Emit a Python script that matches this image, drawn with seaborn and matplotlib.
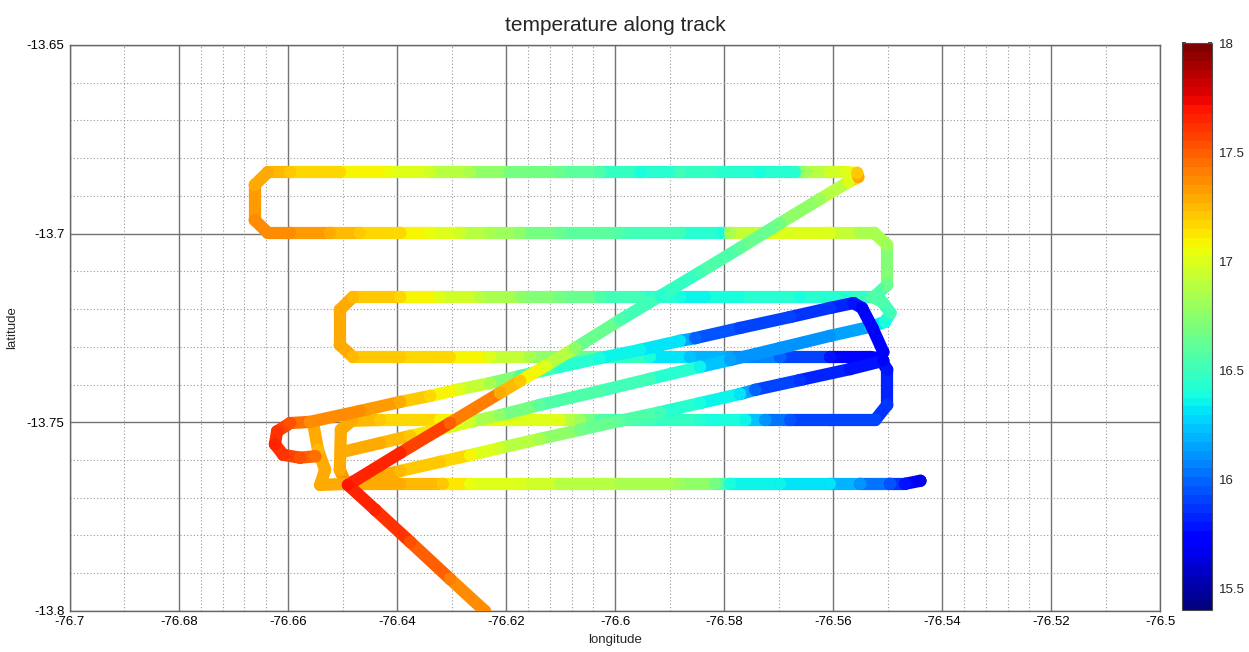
import numpy as np
import pandas as pd
import seaborn as sns
import matplotlib.pyplot as plt
from matplotlib.collections import LineCollection
from matplotlib.colors import Normalize
from matplotlib.cm import ScalarMappable

# Track legs: (longitude, latitude, temperature)
approach_leg = [
    (-76.6239, -13.8000, 17.35), (-76.6303, -13.7915, 17.4), (-76.6376, -13.7817, 17.55),
    (-76.6440, -13.7732, 17.65), (-76.6490, -13.7666, 17.7),
    (-76.6394, -13.7581, 17.65), (-76.6303, -13.7502, 17.5), (-76.6211, -13.7422, 17.3),
    (-76.6174, -13.7390, 17.2), (-76.6128, -13.7351, 17.0), (-76.6073, -13.7303, 16.75),
    (-76.5991, -13.7229, 16.55), (-76.5917, -13.7165, 16.45), (-76.5844, -13.7102, 16.5),
    (-76.5771, -13.7038, 16.6), (-76.5697, -13.6972, 16.7), (-76.5624, -13.6908, 16.8),
    (-76.5572, -13.6863, 17.0), (-76.5554, -13.6850, 17.3), (-76.5556, -13.6839, 17.2),
    (-76.5578, -13.6837, 17.0),
]

survey_leg = [
    (-76.5578, -13.6837, 17.0), (-76.5606, -13.6837, 16.95), (-76.5651, -13.6837, 16.8),
    (-76.5670, -13.6837, 16.45), (-76.5734, -13.6837, 16.4), (-76.5807, -13.6837, 16.45),
    (-76.5881, -13.6837, 16.5), (-76.5954, -13.6837, 16.4), (-76.6028, -13.6837, 16.55),
    (-76.6101, -13.6837, 16.65), (-76.6193, -13.6837, 16.7), (-76.6266, -13.6837, 16.85),
    (-76.6339, -13.6837, 16.95), (-76.6413, -13.6837, 17.05), (-76.6505, -13.6837, 17.15),
    (-76.6596, -13.6837, 17.2), (-76.6637, -13.6837, 17.3), (-76.6661, -13.6871, 17.3),
    (-76.6661, -13.6964, 17.35), (-76.6637, -13.6998, 17.35), (-76.6596, -13.6998, 17.35),
    (-76.6523, -13.6998, 17.3), (-76.6468, -13.6998, 17.2), (-76.6394, -13.6998, 17.15),
    (-76.6339, -13.6998, 17.05), (-76.6284, -13.6998, 16.95), (-76.6229, -13.6998, 16.85),
    (-76.6174, -13.6998, 16.75), (-76.6101, -13.6998, 16.65), (-76.5991, -13.6998, 16.55),
    (-76.5881, -13.6998, 16.5), (-76.5807, -13.6998, 16.4), (-76.5789, -13.6998, 16.85),
    (-76.5716, -13.6998, 17.0), (-76.5606, -13.6998, 17.0), (-76.5550, -13.6998, 16.85),
    (-76.5525, -13.6998, 16.85), (-76.5501, -13.7030, 16.8), (-76.5501, -13.7136, 16.65),
    (-76.5525, -13.7168, 16.5), (-76.5569, -13.7168, 16.45), (-76.5661, -13.7168, 16.4),
    (-76.5752, -13.7168, 16.45), (-76.5835, -13.7168, 16.35), (-76.5881, -13.7168, 16.4),
    (-76.5954, -13.7168, 16.5), (-76.6028, -13.7168, 16.55), (-76.6101, -13.7168, 16.7),
    (-76.6174, -13.7168, 16.75), (-76.6248, -13.7168, 16.9), (-76.6321, -13.7168, 17.0),
    (-76.6394, -13.7168, 17.15), (-76.6481, -13.7168, 17.25), (-76.6505, -13.7202, 17.3),
    (-76.6505, -13.7295, 17.3), (-76.6481, -13.7327, 17.25), (-76.6394, -13.7327, 17.2),
    (-76.6303, -13.7327, 17.15), (-76.6229, -13.7327, 17.0), (-76.6156, -13.7327, 16.85),
    (-76.6083, -13.7327, 16.7), (-76.6009, -13.7327, 16.55), (-76.5936, -13.7327, 16.4),
    (-76.5862, -13.7327, 16.25), (-76.5789, -13.7327, 16.15), (-76.5697, -13.7327, 16.0),
    (-76.5606, -13.7327, 15.8), (-76.5532, -13.7327, 15.7), (-76.5514, -13.7330, 15.7),
    (-76.5501, -13.7361, 15.8), (-76.5501, -13.7454, 15.85), (-76.5523, -13.7494, 15.9),
    (-76.5606, -13.7494, 15.9), (-76.5679, -13.7494, 15.95), (-76.5725, -13.7494, 16.1),
    (-76.5761, -13.7494, 16.35), (-76.5844, -13.7494, 16.45), (-76.5936, -13.7494, 16.5),
    (-76.6028, -13.7494, 16.55), (-76.6064, -13.7494, 16.8), (-76.6101, -13.7494, 17.0),
    (-76.6211, -13.7494, 17.05), (-76.6321, -13.7494, 17.1), (-76.6431, -13.7494, 17.2),
    (-76.6483, -13.7496, 17.3), (-76.6503, -13.7520, 17.3), (-76.6505, -13.7626, 17.3),
    (-76.6495, -13.7658, 17.35),
]

loop_leg = [
    (-76.6550, -13.7590, 17.45), (-76.6578, -13.7594, 17.55), (-76.6609, -13.7586, 17.6),
    (-76.6624, -13.7558, 17.65), (-76.6620, -13.7524, 17.6), (-76.6596, -13.7502, 17.55),
    (-76.6560, -13.7499, 17.35), (-76.6468, -13.7470, 17.35), (-76.6394, -13.7446, 17.3),
    (-76.6339, -13.7430, 17.15), (-76.6284, -13.7412, 17.0), (-76.6229, -13.7396, 16.85),
    (-76.6174, -13.7377, 16.55), (-76.6101, -13.7353, 16.45), (-76.6028, -13.7330, 16.4),
    (-76.5954, -13.7308, 16.35), (-76.5881, -13.7284, 16.3), (-76.5853, -13.7277, 16.0),
    (-76.5771, -13.7250, 15.9), (-76.5679, -13.7221, 15.9), (-76.5606, -13.7197, 15.85),
    (-76.5563, -13.7184, 15.8), (-76.5547, -13.7197, 15.75), (-76.5528, -13.7250, 15.75),
    (-76.5508, -13.7314, 15.7),
]

bottom_leg = [
    (-76.6554, -13.7502, 17.3), (-76.6545, -13.7573, 17.25), (-76.6532, -13.7626, 17.3),
    (-76.6541, -13.7666, 17.3), (-76.6486, -13.7663, 17.3), (-76.6394, -13.7663, 17.3),
    (-76.6316, -13.7663, 17.2), (-76.6266, -13.7663, 17.05), (-76.6174, -13.7663, 17.0),
    (-76.6101, -13.7663, 16.9), (-76.5991, -13.7663, 16.85), (-76.5881, -13.7663, 16.8),
    (-76.5817, -13.7663, 16.7), (-76.5789, -13.7663, 16.4), (-76.5697, -13.7663, 16.35),
    (-76.5606, -13.7663, 16.3), (-76.5550, -13.7663, 16.1), (-76.5495, -13.7663, 15.95),
    (-76.5468, -13.7663, 15.8), (-76.5440, -13.7655, 15.65),
]

diag1_leg = [
    (-76.6501, -13.7579, 17.3), (-76.6431, -13.7555, 17.3), (-76.6376, -13.7536, 17.2),
    (-76.6321, -13.7518, 17.05), (-76.6266, -13.7499, 16.95), (-76.6211, -13.7481, 16.75),
    (-76.6138, -13.7454, 16.6), (-76.6028, -13.7417, 16.55), (-76.5936, -13.7385, 16.5),
    (-76.5844, -13.7353, 16.35), (-76.5789, -13.7335, 16.15), (-76.5697, -13.7303, 16.1),
    (-76.5606, -13.7271, 16.1), (-76.5532, -13.7247, 16.2), (-76.5505, -13.7234, 16.4),
    (-76.5495, -13.7210, 16.5), (-76.5510, -13.7181, 16.55), (-76.5528, -13.7168, 16.55),
]

diag3_leg = [
    (-76.6483, -13.7658, 17.3), (-76.6394, -13.7629, 17.25), (-76.6321, -13.7605, 17.2),
    (-76.6266, -13.7587, 17.1), (-76.6211, -13.7568, 16.95), (-76.6138, -13.7544, 16.85),
    (-76.6064, -13.7520, 16.7), (-76.5991, -13.7496, 16.6), (-76.5917, -13.7473, 16.5),
    (-76.5844, -13.7449, 16.4), (-76.5771, -13.7425, 16.3), (-76.5743, -13.7414, 16.0),
    (-76.5661, -13.7388, 15.85), (-76.5569, -13.7359, 15.8), (-76.5508, -13.7337, 15.75),
]

x_ticks = [-76.7, -76.68, -76.66, -76.64, -76.62, -76.6, -76.58, -76.56, -76.54, -76.52, -76.5]
x_labels = ['-76.7', '-76.68', '-76.66', '-76.64', '-76.62', '-76.6', '-76.58', '-76.56', '-76.54', '-76.52', '-76.5']
y_ticks = [-13.8, -13.75, -13.7, -13.65]
y_labels = ['-13.8', '-13.75', '-13.7', '-13.65']
x_minor = [-76.69, -76.676, -76.672, -76.668, -76.664, -76.65, -76.63, -76.616, -76.612,
           -76.608, -76.604, -76.59, -76.57, -76.55, -76.536, -76.532, -76.528, -76.524, -76.51]
y_minor = [-13.79, -13.78, -13.77, -13.76, -13.74, -13.73, -13.72, -13.71, -13.69, -13.68, -13.67, -13.66]
cbar_ticks = [15.5, 16, 16.5, 17, 17.5, 18]
cbar_labels = ['15.5', '16', '16.5', '17', '17.5', '18']
t_min, t_max = 15.4, 18.0

# drawing order: first is at the bottom
legs = [survey_leg, diag3_leg, diag1_leg, bottom_leg, loop_leg, approach_leg]
frames = []
for i, leg in enumerate(legs):
    d = pd.DataFrame(leg, columns=['lon', 'lat', 'temp'])
    d['leg'] = i
    frames.append(d)
df = pd.concat(frames, ignore_index=True)

sns.set_theme(style='white')
plt.rcParams['font.family'] = ['Liberation Sans', 'DejaVu Sans']

cmap = plt.get_cmap('jet', 64)
norm = Normalize(t_min, t_max)

fig = plt.figure(figsize=(12.49, 6.52), dpi=100)
ax = fig.add_axes([0.056, 0.063, 0.873, 0.868])

lw = 8.8
for i, g in df.groupby('leg'):
    pts = g[['lon', 'lat']].to_numpy()
    tt = g['temp'].to_numpy()
    segs = np.stack([pts[:-1], pts[1:]], axis=1)
    seg_t = (tt[:-1] + tt[1:]) / 2
    lc = LineCollection(segs, colors=cmap(norm(seg_t)), linewidths=lw,
                        capstyle='round', joinstyle='round', zorder=3 + 2 * i)
    ax.add_collection(lc)
    sns.scatterplot(data=g, x='lon', y='lat', hue='temp', palette=cmap, hue_norm=(t_min, t_max),
                    s=lw ** 2, linewidth=0, legend=False, ax=ax, zorder=4 + 2 * i)

ax.set_xlim(-76.7, -76.5)
ax.set_ylim(-13.8, -13.65)
ax.set_xticks(x_ticks)
ax.set_xticklabels(x_labels)
ax.set_yticks(y_ticks)
ax.set_yticklabels(y_labels)
ax.set_xticks(x_minor, minor=True)
ax.set_yticks(y_minor, minor=True)
ax.tick_params(which='both', length=0, labelsize=9.5, colors='black', pad=4)
ax.grid(which='major', color='0.45', linewidth=1.0, linestyle='-', zorder=0)
ax.grid(which='minor', color='0.6', linewidth=0.8, linestyle=(0, (1, 2)), zorder=0)
ax.set_axisbelow(True)
for s in ax.spines.values():
    s.set_color('0.4')
    s.set_linewidth(1.0)

ax.set_xlabel('longitude', fontsize=9.5, labelpad=4)
ax.set_ylabel('latitude', fontsize=9.5, labelpad=6)
ax.set_title('temperature along track', fontsize=15, pad=10)

cax = fig.add_axes([0.946, 0.064, 0.024, 0.870])
cb = fig.colorbar(ScalarMappable(norm=norm, cmap=cmap), cax=cax)
cb.set_ticks(cbar_ticks)
cb.set_ticklabels(cbar_labels)
cb.outline.set_linewidth(0.8)
cb.outline.set_edgecolor('0.3')
cax.tick_params(labelsize=9.5, length=3, direction='in', left=True, right=True, pad=5)

fig.savefig('out.png', dpi=100)
